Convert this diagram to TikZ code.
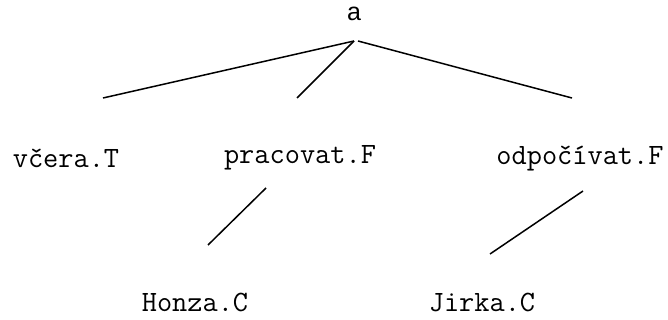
\documentclass[tikz,border=0pt]{standalone}
\usepackage{fontspec}
\newfontfamily\sansfam{Liberation Sans}
\begin{document}
\begin{tikzpicture}[x=1pt,y=-1pt,
  lbl/.style={inner sep=0pt,anchor=center,font=\ttfamily\fontsize{29.5}{34}\selectfont},
  edge/.style={line width=1.5pt}]
\useasboundingbox (0,0) rectangle (668,320);
\node[lbl,font=\sansfam\fontsize{25}{30}\selectfont] (a) at (354,14) {a};
\node[lbl] (vcera) at (66,158) {včera.T};
\node[lbl] (prac) at (300,158) {pracovat.F};
\node[lbl] (odp) at (580,158) {odpočívat.F};
\node[lbl] (honza) at (195,302) {Honza.C};
\node[lbl] (jirka) at (482,302) {Jirka.C};
\coordinate (aL) at (354,41);
\coordinate (aR) at (358,41);
\coordinate (vT) at (103,98);
\coordinate (pT) at (297,98);
\coordinate (oT) at (572,98);
\coordinate (pB) at (266,188);
\coordinate (hT) at (208,245);
\coordinate (oB) at (583,191);
\coordinate (jT) at (490,254);
\draw[edge] (aL) -- (vT);
\draw[edge] (aL) -- (pT);
\draw[edge] (aR) -- (oT);
\draw[edge] (pB) -- (hT);
\draw[edge] (oB) -- (jT);
\end{tikzpicture}
\end{document}
